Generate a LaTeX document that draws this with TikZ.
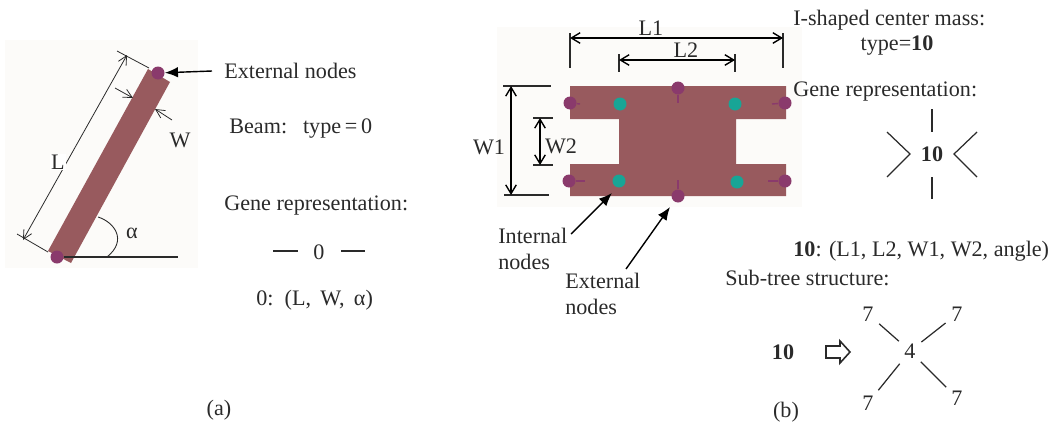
\documentclass[tikz,border=0pt]{standalone}
\usepackage{fontspec}
\setmainfont{Liberation Serif}
\usepackage{xcolor}
\usetikzlibrary{arrows.meta}
\definecolor{massred}{HTML}{985A5E}
\definecolor{extpurple}{HTML}{8A3A6C}
\definecolor{intteal}{HTML}{18A596}
\definecolor{panel}{HTML}{FCFBF9}
\definecolor{ink}{HTML}{2A2A2A}
\tikzset{
	every node/.style={font=\fontsize{12.6}{15}\selectfont, text=ink, inner sep=0pt},
	txt/.style={anchor=base west},
	line/.style={draw=ink, line width=.7pt},
	thin dim/.style={draw=ink, line width=.45pt, {Straight Barb[length=5pt,width=5pt]}-{Straight Barb[length=5pt,width=5pt]}},
	thin tip/.style={draw=ink, line width=.45pt, -{Straight Barb[length=5pt,width=5pt]}},
	heavy dim/.style={draw=black, line width=.8pt, {Straight Barb[length=5pt,width=6pt]}-{Straight Barb[length=5pt,width=6pt]}},
	pointer/.style={draw=black, line width=.8pt, -{Latex[length=7.5pt,width=6pt]}},
	extnode/.style={circle, fill=extpurple, minimum size=7.4pt},
	intnode/.style={circle, fill=intteal, minimum size=7.4pt}
}
\tikzstyle{mass}=[fill=massred]
\begin{document}
\begin{tikzpicture}[x=.02cm, y=-.02cm]
	\useasboundingbox (0,0) rectangle (1054,426);
	\fill[panel] (5,40) rectangle (198,268);
	\fill[panel] (497,27) rectangle (802,207);
	% (a) beam
	\fill[mass] (148,69) -- (170,82) -- (71,263) -- (48,251) -- cycle;
	\node[extnode] (beamtop) at (158,73) {};
	\node[extnode] (beambot) at (57,257) {};
	\coordinate (Ltop) at (117,51);
	\coordinate (Ltopin) at (149,68);
	\coordinate (Lbot) at (17,234);
	\coordinate (Lbotin) at (48,252);
	\coordinate (Lup) at (127,55);
	\coordinate (Ldn) at (23,240);
	\draw[line, line width=.45pt] (Ltop) -- (Ltopin);
	\draw[line, line width=.45pt] (Lbot) -- (Lbotin);
	\draw[thin dim] (Ldn) -- (Lup);
	\node[fill=white, inner sep=.5pt] (Llabel) at (58,162) {L};
	\coordinate (Wa) at (115,88);
	\coordinate (Wb) at (133,98);
	\coordinate (Wc) at (172,120);
	\coordinate (Wd) at (155,109);
	\draw[thin tip] (Wa) -- (Wb);
	\draw[thin tip] (Wc) -- (Wd);
	\node (Wlabel) at (180,140) {W};
	\coordinate (base) at (178,257);
	\draw[line] (beambot) -- (base);
	\coordinate (arca) at (98,217);
	\coordinate (arcb) at (107,257);
	\draw[line, line width=.5pt] (arca) .. controls (114,222) and (128,240) .. (arcb);
	\node (alpha) at (132,233) {α};
	\node[txt] (exta) at (224,78) {External nodes};
	\coordinate (extafrom) at (212,71);
	\draw[pointer] (extafrom) -- (beamtop);
	\node[txt] (beamtype) at (229,133) {Beam:\hspace{.72em}type\,=\,0};
	\node[txt] (genea) at (224,210) {Gene representation:};
	\node (zero) at (319,252) {0};
	\coordinate (za) at (273,251);
	\coordinate (zb) at (298,251);
	\coordinate (zc) at (341,251);
	\coordinate (zd) at (365,251);
	\draw[line] (za) -- (zb);
	\draw[line] (zc) -- (zd);
	\node[txt] (parama) at (256,305) {0:\, (L,\, W,\, α)};
	\node (capa) at (219,410) {(a)};
	% (b) center mass
	\fill[mass] (570,86) -- (786,86) -- (786,119) -- (736,119) -- (736,164) -- (786,164) -- (786,196) -- (570,196) -- (570,164) -- (619,164) -- (619,119) -- (570,119) -- cycle;
	\node[extnode] (e1) at (570,103) {};
	\node[extnode] (e2) at (785,103) {};
	\node[extnode] (e3) at (569,181) {};
	\node[extnode] (e4) at (785,181) {};
	\node[extnode] (e5) at (678,88) {};
	\node[extnode] (e6) at (678,196) {};
	\node[intnode] (i1) at (620,104) {};
	\node[intnode] (i2) at (735,104) {};
	\node[intnode] (i3) at (619,181) {};
	\node[intnode] (i4) at (737,182) {};
	\coordinate (t1) at (580,104);
	\coordinate (t2) at (772,104);
	\coordinate (t3) at (585,181);
	\coordinate (t4) at (768,181);
	\coordinate (t5) at (678,103);
	\coordinate (t6) at (678,180);
	\foreach \n in {1,...,6}{
		\draw[draw=extpurple, line width=.8pt] (e\n) -- (t\n);
	}
	% L1, L2
	\coordinate (La) at (570,33);
	\coordinate (Lb) at (570,68);
	\coordinate (Lc) at (783,33);
	\coordinate (Ld) at (783,68);
	\coordinate (Le) at (619,54);
	\coordinate (Lf) at (619,72);
	\coordinate (Lg) at (735,54);
	\coordinate (Lh) at (735,72);
	\draw[line, line width=.8pt] (La) -- (Lb);
	\draw[line, line width=.8pt] (Lc) -- (Ld);
	\draw[line, line width=.8pt] (Le) -- (Lf);
	\draw[line, line width=.8pt] (Lg) -- (Lh);
	\draw[heavy dim] (570,38) -- (783,38);
	\draw[heavy dim] (619,60) -- (735,60);
	\node (Lone) at (651,28) {L1};
	\node (Ltwo) at (686,50) {L2};
	% W1, W2
	\coordinate (Wp) at (503,86);
	\coordinate (Wq) at (551,86);
	\coordinate (Wr) at (504,195);
	\coordinate (Ws) at (549,195);
	\coordinate (Wt) at (533,118);
	\coordinate (Wu) at (553,118);
	\coordinate (Wv) at (533,165);
	\coordinate (Wx) at (553,165);
	\draw[line, line width=.8pt] (Wp) -- (Wq);
	\draw[line, line width=.8pt] (Wr) -- (Ws);
	\draw[line, line width=.8pt] (Wt) -- (Wu);
	\draw[line, line width=.8pt] (Wv) -- (Wx);
	\draw[heavy dim] (511,86) -- (511,195);
	\draw[heavy dim] (540,118) -- (540,165);
	\node (Wone) at (489,147) {W1};
	\node (Wtwo) at (561,146) {W2};
	\node[txt] (intl) at (498,243) {Internal};
	\node[txt] (intm) at (498,269) {nodes};
	\node[txt] (extl) at (565,288) {External};
	\node[txt] (extm) at (565,314) {nodes};
	\coordinate (ptra) at (571,234);
	\coordinate (ptrb) at (612,193);
	\coordinate (ptrc) at (626,269);
	\coordinate (ptrd) at (670,207);
	\draw[pointer] (ptra) -- (ptrb);
	\draw[pointer] (ptrc) -- (ptrd);
	% right column
	\node[txt] (title) at (793,26) {I-shaped center mass:};
	\node (typeb) at (897,46) {type=\textbf{10}};
	\node[txt] (geneb) at (793,96) {Gene representation:};
	\node (ten) at (932,154) {\textbf{10}};
	\coordinate (ga) at (932,109);
	\coordinate (gb) at (932,132);
	\coordinate (gc) at (932,177);
	\coordinate (gd) at (932,199);
	\draw[line] (ga) -- (gb);
	\draw[line] (gc) -- (gd);
	\coordinate (ge) at (887,132);
	\coordinate (gf) at (910,154);
	\coordinate (gg) at (887,177);
	\coordinate (gh) at (977,132);
	\coordinate (gi) at (954,154);
	\coordinate (gj) at (977,177);
	\draw[line] (ge) -- (gf) -- (gg);
	\draw[line] (gh) -- (gi) -- (gj);
	\node[txt] (paramb) at (793,256) {\textbf{10}: (L1, L2, W1, W2, angle)};
	\node[txt] (subtree) at (725,285) {Sub-tree structure:};
	\node (tenb) at (783,352) {\textbf{10}};
	\draw[line, line width=.9pt, fill=white] (826,346) -- (840,346) -- (840,341) -- (850,352) -- (840,363) -- (840,358) -- (826,358) -- cycle;
	\node (four) at (910,351) {4};
	\node (s1) at (868,314) {7};
	\node (s2) at (957,314) {7};
	\node (s3) at (868,403) {7};
	\node (s4) at (957,398) {7};
	\foreach \n in {1,...,4}{
		\draw[line, shorten >=4pt, shorten <=4pt] (four) -- (s\n);
	}
	\node (capb) at (786,412) {(b)};
\end{tikzpicture}
\end{document}
